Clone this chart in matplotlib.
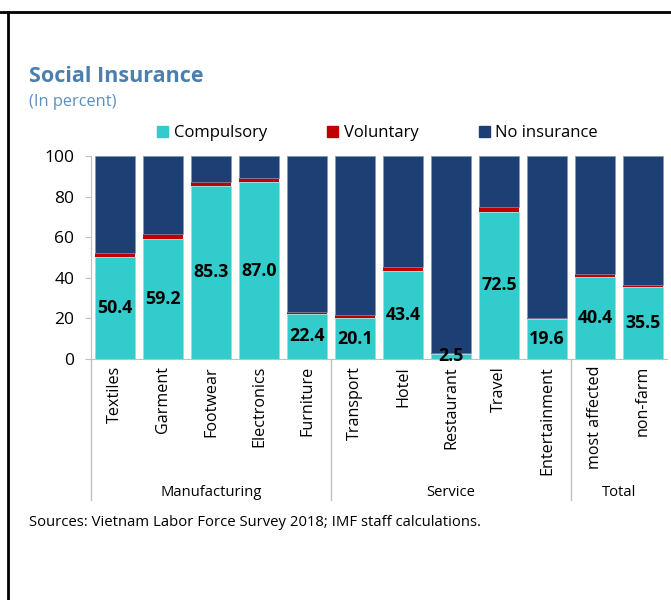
import matplotlib
matplotlib.use('Agg')
from matplotlib import pyplot as plt
from matplotlib.lines import Line2D
from matplotlib.patches import Patch
import numpy as np

plt.rcParams['font.family'] = ['Open Sans', 'DejaVu Sans']

categories = ['Textiles', 'Garment', 'Footwear', 'Electronics', 'Furniture',
              'Transport', 'Hotel', 'Restaurant', 'Travel', 'Entertainment',
              'most affected', 'non-farm']
groups = ['Manufacturing', 'Service', 'Total']
group_sizes = [5, 5, 2]
compulsory = [50.4, 59.2, 85.3, 87.0, 22.4, 20.1, 43.4, 2.5, 72.5, 19.6, 40.4, 35.5]
voluntary = [1.8, 2.3, 2.1, 2.0, 0.6, 1.6, 2.0, 0.3, 2.6, 0.4, 1.5, 1.1]
no_insurance = [100 - c - v for c, v in zip(compulsory, voluntary)]

c_comp = '#33CCCC'
c_vol = '#C00000'
c_none = '#1D3F73'
grey = '#BFBFBF'

fig = plt.figure(figsize=(6.71, 6.0), dpi=100)
ax = fig.add_axes([91 / 671, 1 - 359 / 600, 576 / 671, 203 / 600])

x = np.arange(len(categories))
w = 0.83
ax.bar(x, compulsory, w, color=c_comp, edgecolor='#9ad9d9', linewidth=0.5)
ax.bar(x, voluntary, w, bottom=compulsory, color=c_vol, linewidth=0)
ax.bar(x, no_insurance, w, bottom=np.add(compulsory, voluntary), color=c_none,
       edgecolor='#8796b0', linewidth=0.5)

for xi, c in zip(x, compulsory):
    ax.text(xi, c / 2, f'{c:.1f}', ha='center', va='center', fontsize=12.8,
            fontweight='bold', color='black')

ax.set_xlim(-0.5, len(categories) - 0.5)
ax.set_ylim(0, 100)
ax.set_yticks([0, 20, 40, 60, 80, 100])
ax.tick_params(axis='y', labelsize=12.5, length=4, color=grey, pad=8)
ax.set_xticks(x)
ax.set_xticklabels(categories, rotation=90, fontsize=11.6, va='top')
ax.tick_params(axis='x', length=0, pad=5)
for s in ['top', 'right']:
    ax.spines[s].set_visible(False)
for s in ['left', 'bottom']:
    ax.spines[s].set_color(grey)

# group separators and labels under the axis
trans = ax.get_xaxis_transform()
edges = np.concatenate([[0], np.cumsum(group_sizes)]) - 0.5
for e in edges[:-1]:
    ax.plot([e, e], [0, -141 / 203], transform=trans, color=grey, lw=1, clip_on=False)
for g, a, b in zip(groups, edges[:-1], edges[1:]):
    ax.text((a + b) / 2, -133 / 203, g, transform=trans, ha='center', va='center',
            fontsize=10.6)

handles = [Patch(color=c_comp), Patch(color=c_vol), Patch(color=c_none)]
fig.legend(handles, ['Compulsory', 'Voluntary', 'No insurance'], ncol=3,
           loc='center left', bbox_to_anchor=(149 / 671, 1 - 133 / 600),
           frameon=False, fontsize=12, handlelength=0.65, handleheight=0.65,
           handletextpad=0.35, columnspacing=3.6, borderpad=0)

fig.text(29 / 671, 1 - 76 / 600, 'Social Insurance', fontsize=15.5, fontweight='bold',
         color='#4A7FB0', va='center')
fig.text(29 / 671, 1 - 102 / 600, '(In percent)', fontsize=11.8, color='#5B8FC0',
         va='center')
fig.text(29 / 671, 1 - 522 / 600,
         'Sources: Vietnam Labor Force Survey 2018; IMF staff calculations.',
         fontsize=10.7, va='center')

fig.add_artist(Line2D([0, 1], [1 - 12 / 600, 1 - 12 / 600], color='black', lw=2))
fig.add_artist(Line2D([8 / 671, 8 / 671], [0, 1 - 12 / 600], color='black', lw=2))

fig.savefig('out.png', dpi=100)
